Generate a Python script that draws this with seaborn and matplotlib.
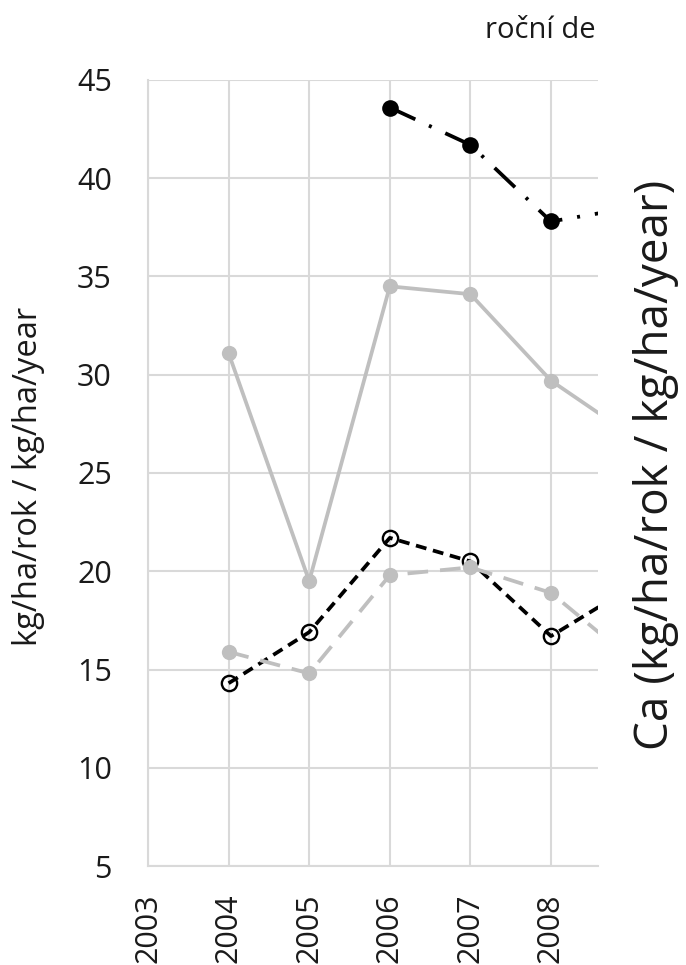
import numpy as np
import pandas as pd
import matplotlib
matplotlib.use("Agg")
import matplotlib.pyplot as plt
import seaborn as sns

# ---- data ----
years = [2003, 2004, 2005, 2006, 2007, 2008, 2009]
gray_solid = [np.nan, 31.1, 19.5, 34.5, 34.1, 29.7, 26.9]
black_dashed = [np.nan, 14.3, 16.9, 21.7, 20.5, 16.7, 19.2]
gray_dashed = [np.nan, 15.9, 14.8, 19.8, 20.2, 18.9, 15.5]
black_dashdot = [np.nan, np.nan, np.nan, 43.6, 41.7, 37.8, 38.5]
x_ticks = [2003, 2004, 2005, 2006, 2007, 2008]
y_ticks = [5, 10, 15, 20, 25, 30, 35, 40, 45]
title_text = "roční de"
left_label = "kg/ha/rok / kg/ha/year"
right_label = "Ca (kg/ha/rok / kg/ha/year)"

sns.set_style("white")
plt.rcParams["font.family"] = ["Open Sans", "DejaVu Sans"]

W, H = 686, 965
fig = plt.figure(figsize=(W / 100, H / 100), dpi=100)
ax = fig.add_axes([148 / W, 1 - 866 / H, 450 / W, 786 / H])

GRAY = "#bfbfbf"
LW = 2.7

df = pd.DataFrame({"year": years, "gs": gray_solid, "bd": black_dashed,
                   "gd": gray_dashed, "bdd": black_dashdot})

styles = [
    ("gs", dict(color=GRAY, linestyle="-", marker="o", markersize=11,
                markerfacecolor=GRAY, markeredgecolor=GRAY, markeredgewidth=0)),
    ("bd", dict(color="black", linestyle=(0, (2.9, 1.8)), marker="o",
                markersize=11, markerfacecolor="none",
                markeredgecolor="black", markeredgewidth=1.7)),
    ("gd", dict(color=GRAY, linestyle=(0, (5.5, 3.2)), marker="o",
                markersize=11, markerfacecolor=GRAY, markeredgecolor=GRAY,
                markeredgewidth=0)),
    ("bdd", dict(color="black", linestyle=(0, (7.5, 4.0, 0.8, 4.0)), marker="o",
                 markersize=12, markerfacecolor="black",
                 markeredgecolor="black", markeredgewidth=0)),
]
for col, st in styles:
    n0 = len(ax.lines)
    sns.lineplot(data=df, x="year", y=col, ax=ax, color=st["color"])
    for ln in ax.lines[n0:]:
        ln.set_linewidth(LW)
        ln.set_linestyle(st["linestyle"])
        ln.set_marker(st["marker"])
        ln.set_markersize(st["markersize"])
        ln.set_markerfacecolor(st["markerfacecolor"])
        ln.set_markeredgecolor(st["markeredgecolor"])
        ln.set_markeredgewidth(st["markeredgewidth"])
        ln.set_dash_capstyle("butt")

ax.set_xlim(2003, 2003 + 450 / 80.6)
ax.set_ylim(5, 45)
ax.set_xticks(x_ticks)
ax.set_xticklabels([str(v) for v in x_ticks], rotation=90)
ax.set_yticks(y_ticks)
ax.set_xlabel("")
ax.set_ylabel("")
ax.grid(True, color="#d9d9d9", lw=1.5)
ax.set_axisbelow(True)
for s in ["top", "right"]:
    ax.spines[s].set_visible(False)
for s in ["left", "bottom"]:
    ax.spines[s].set_color("#d9d9d9")
    ax.spines[s].set_linewidth(1.5)
ax.tick_params(axis="y", length=0, pad=26, labelsize=22, labelcolor="#1a1a1a")
ax.tick_params(axis="x", length=0, pad=20, labelsize=22, labelcolor="#1a1a1a")

fig.text(29 / W, 1 - 476 / H, left_label, rotation=90, ha="center",
         va="center", fontsize=23.5, color="#1a1a1a")
fig.text(656 / W, 1 - 465 / H, right_label, rotation=90, ha="center",
         va="center", fontsize=33, color="#1a1a1a")
fig.text(485 / W, 1 - 31 / H, title_text, ha="left", va="center",
         fontsize=21, color="#1a1a1a")

fig.savefig("out.png", dpi=100)
